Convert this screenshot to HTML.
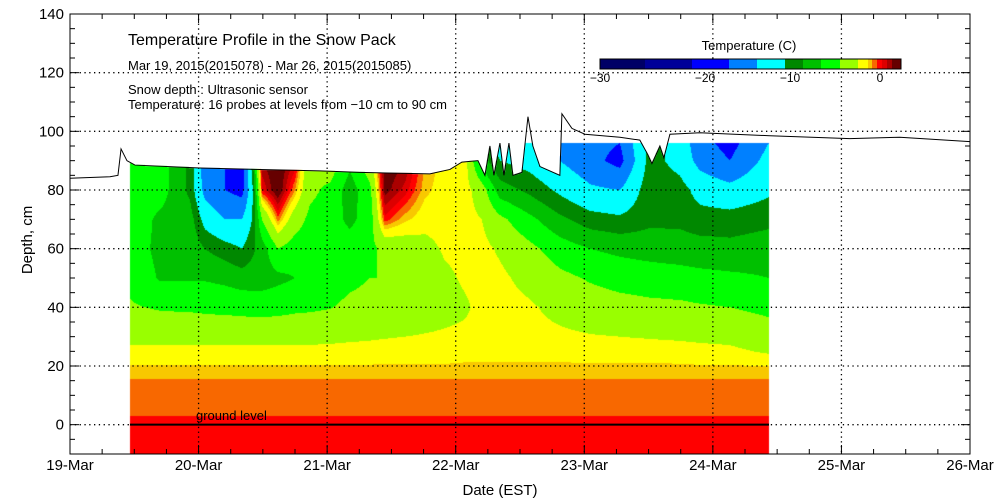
<!DOCTYPE html>
<html><head><meta charset="utf-8"><style>
html,body{margin:0;padding:0;background:#fff;}
#wrap{position:relative;width:1000px;height:500px;overflow:hidden;font-family:"Liberation Sans",sans-serif;}
canvas,svg{position:absolute;left:0;top:0;}
</style></head><body>
<div id="wrap">
<canvas id="cv" width="1000" height="500"></canvas>
<svg id="sv" width="1000" height="500"></svg>
</div>
<script>
// ---- data ----
const colTimes=[19.467,19.70,19.933,20.05,20.205,20.337,20.415,20.493,20.617,20.75,20.866,21.022,21.177,21.333,21.449,21.605,21.76,21.916,22.072,22.204,22.344,22.577,22.81,23.044,23.277,23.51,23.743,23.899,24.132,24.435];
const depths=[-10,0,5,10,15,20,25,30,40,50,60,70,80,90,96];
const lowerProfile=[0.2,0.2,-0.15,-0.35,-0.45];
// upper values per column for depths 20,25,30,40,50,60,70,80,90,96
const upperTemps=[
[-0.95,-1.6,-2.5,-3.8,-4.5,-5,-4.5,-4.5,-4,-3.5],
[-0.95,-1.6,-2.5,-4.2,-6.2,-6.5,-6.5,-5,-5,-4.5],
[-0.95,-1.6,-2.5,-4.3,-6.2,-6.5,-7,-8.5,-8.5,-8.5],
[-0.95,-1.6,-2.6,-4.4,-6.2,-8,-11,-14,-15,-15],
[-0.95,-1.6,-2.6,-4.5,-6.5,-9,-13,-16,-16,-16],
[-0.95,-1.6,-2.6,-4.6,-7,-10,-13,-17,-18,-18],
[-0.95,-1.6,-2.6,-4.7,-7,-8.5,-10,-11,-9,-8],
[-0.95,-1.6,-2.6,-4.7,-7,-7,-4,0.5,1.5,1.7],
[-0.95,-1.6,-2.6,-4.6,-6.5,-4,-0.2,2.2,2.2,2.2],
[-0.95,-1.6,-2.5,-4.4,-6,-5,-3,-0.5,1,1.5],
[-0.95,-1.6,-2.5,-4.3,-5.5,-5,-4.5,-3.5,-3.5,-3],
[-0.95,-1.6,-2.4,-4.1,-5.2,-5,-5,-4.5,-2.5,-2],
[-0.95,-1.5,-2.3,-3.5,-4.5,-5,-6.5,-7,-5.5,-4.5],
[-0.95,-1.45,-2.2,-3.3,-4,-4.5,-5,-4.5,-2.5,-2],
[-0.95,-1.4,-2.1,-3.2,-4,-3.5,0.3,1.8,2,2],
[-0.95,-1.35,-2,-3,-3.8,-3,-0.8,0.8,1.6,1.7],
[-0.95,-1.35,-1.9,-2.8,-3,-2.5,-1.5,-0.8,-0.5,-0.4],
[-0.95,-1.3,-1.8,-2.5,-2.3,-1.8,-1.5,-1.4,-1.3,-1.2],
[-0.9,-1.3,-1.7,-2.2,-1.8,-1.6,-1.5,-1.4,-1.3,-1.3],
[-0.9,-1.3,-1.6,-1.6,-1.6,-1.6,-2,-3,-7,-10],
[-0.9,-1.3,-1.5,-1.5,-1.7,-2.2,-3.5,-7,-10,-11],
[-0.9,-1.25,-1.5,-1.8,-2.5,-3.5,-5.5,-8.5,-11,-11],
[-0.9,-1.3,-1.7,-2.5,-3.5,-5,-7.5,-10.5,-13,-14],
[-0.9,-1.35,-1.9,-3,-4.2,-6,-9,-12.5,-15,-15],
[-0.9,-1.4,-2,-3.3,-4.7,-6.5,-9.5,-13,-17,-16],
[-0.9,-1.45,-2.1,-3.5,-5,-6.8,-8.5,-8.5,-9,-9],
[-0.9,-1.5,-2.2,-3.6,-5.2,-7,-8.5,-9,-11,-11],
[-0.95,-1.6,-2.3,-3.8,-5.4,-7.2,-9,-11,-14,-15],
[-0.95,-1.7,-2.4,-4,-5.6,-7.4,-9,-12,-16,-17],
[-1.0,-2.2,-3,-4.5,-6,-7,-8.5,-10.5,-12,-13]
];
const surfTimes=[19.0,19.311,19.373,19.397,19.443,19.505,20.011,20.477,20.944,21.255,21.799,21.955,22.048,22.173,22.227,22.266,22.297,22.344,22.375,22.414,22.445,22.515,22.562,22.6,22.655,22.81,22.826,22.904,23.005,23.277,23.432,23.495,23.526,23.588,23.619,23.666,23.899,24.443,25.065,25.454,26.0];
const surfDepths=[84,84.5,85,94,90,88.5,87.5,87,86.5,86,85.5,87,89.5,90,85,95,85,96,85,96,85,86,105,95,88,85,106,101,99,98,97,92,89,95,91,99,99.5,98.5,97.5,98,96.5];
const xTickLabels=["19-Mar","20-Mar","21-Mar","22-Mar","23-Mar","24-Mar","25-Mar","26-Mar"];
const yTickLabels=[-10,0,20,40,60,80,100,120,140];
const levelBounds=[-25,-20,-16,-13,-10,-8,-6,-4,-2,-1,-0.5,0,0.5,1,1.5];
const levelColors=["#000066","#000099","#0000ff","#0080ff","#00ffff","#008800","#00c000","#00ff00","#99ff00","#ffff00","#f8c800","#f86800","#ff0000","#dd0000","#aa0000","#660000"];
const cbTicks=[-30,-20,-10,0];
// ---- axes ----
const L=70,R=970,T=14,B=454;
const X=t=>L+(t-19)/7*(R-L);
const Y=d=>B-(d+10)/150*(B-T);
const Ti=x=>19+(x-L)/(R-L)*7;
const Di=y=>(B-y)/(B-T)*150-10;
function interp(xs,ys,v){if(v<=xs[0])return ys[0];for(let i=0;i<xs.length-1;i++){if(v<=xs[i+1]){const f=(v-xs[i])/(xs[i+1]-xs[i]);return ys[i]+f*(ys[i+1]-ys[i]);}}return ys[ys.length-1];}
function colProfile(i){return lowerProfile.concat(upperTemps[i]);}
function colorFor(v){let k=0;while(k<levelBounds.length&&v>=levelBounds[k])k++;return levelColors[k];}
function hex(c){return [parseInt(c.substr(1,2),16),parseInt(c.substr(3,2),16),parseInt(c.substr(5,2),16)];}
// ---- field ----
const cv=document.getElementById('cv'),ctx=cv.getContext('2d');
ctx.fillStyle='#fff';ctx.fillRect(0,0,1000,500);
const x0=Math.round(X(colTimes[0])),x1=Math.round(X(colTimes[colTimes.length-1]));
const img=ctx.getImageData(0,0,1000,500);
const profs=colTimes.map((t,i)=>colProfile(i));
for(let x=x0;x<x1;x++){
  const t=Ti(x+0.5);
  let i=0;while(i<colTimes.length-2&&t>colTimes[i+1])i++;
  let f=(t-colTimes[i])/(colTimes[i+1]-colTimes[i]);f=Math.max(0,Math.min(1,f));
  const prof=depths.map((d,k)=>profs[i][k]*(1-f)+profs[i+1][k]*f);
  const top=Math.min(96,interp(surfTimes,surfDepths,t));
  const yTop=Math.round(Y(top));
  for(let y=yTop;y<B;y++){
    const d=Di(y+0.5);
    const c=hex(colorFor(interp(depths,prof,d)));
    const p=(y*1000+x)*4;img.data[p]=c[0];img.data[p+1]=c[1];img.data[p+2]=c[2];img.data[p+3]=255;
  }
}
ctx.putImageData(img,0,0);
// ---- overlay ----
const NS='http://www.w3.org/2000/svg',sv=document.getElementById('sv');
function el(tag,attrs,parent){const e=document.createElementNS(NS,tag);for(const k in attrs)e.setAttribute(k,attrs[k]);(parent||sv).appendChild(e);return e;}
const grid=el('g',{stroke:'#000','stroke-width':1.3,'stroke-dasharray':'1.3,3.5'});


for(let k=1;k<7;k++){const x=X(19+k);el('line',{x1:x,x2:x,y1:T,y2:B},grid);}
yTickLabels.forEach(v=>{if(v>-10&&v<140){const y=Y(v);el('line',{x1:L,x2:R,y1:y,y2:y},grid);}});
// ground line
const gl=el('line',{x1:x0,x2:x1,y1:Y(0),y2:Y(0),stroke:'#000','stroke-width':2});


const gt=el('text',{x:196,y:420,'font-size':13,fill:'#000'});gt.textContent='ground level';


// snow surface
const sp=el('polyline',{points:surfTimes.map((t,i)=>X(t)+','+Y(surfDepths[i])).join(' '),fill:'none',stroke:'#000','stroke-width':1});


// frame
const fr=el('rect',{x:L,y:T,width:R-L,height:B-T,fill:'none',stroke:'#000','stroke-width':1});


// ticks
const tk=el('g',{stroke:'#000','stroke-width':1});


for(let k=0;k<=28;k++){const x=X(19+k/4);const len=k%4?5:9;el('line',{x1:x,x2:x,y1:B,y2:B-len},tk);el('line',{x1:x,x2:x,y1:T,y2:T+len},tk);}
for(let v=-10;v<=140;v+=5){const y=Y(v);const len=v%20===0?9:5;el('line',{x1:L,x2:L+len,y1:y,y2:y},tk);el('line',{x1:R,x2:R-len,y1:y,y2:y},tk);}
xTickLabels.forEach((s,k)=>{const t=el('text',{x:X(19+k),y:470,'font-size':15,'text-anchor':'middle',fill:'#000'});t.textContent=s;

});
yTickLabels.forEach(v=>{const t=el('text',{x:64,y:Y(v)+5,'font-size':15,'text-anchor':'end',fill:'#000'});t.textContent=v===-10?'':String(v);

});
const xt=el('text',{x:500,y:495,'font-size':15,'text-anchor':'middle'});xt.textContent='Date (EST)';


const yt=el('text',{x:32,y:240,'font-size':15,'text-anchor':'middle',transform:'rotate(-90 32 240)'});yt.textContent='Depth, cm';


// titles
const lines=[[128,45,16,'Temperature Profile in the Snow Pack'],[128,70,13,'Mar 19, 2015(2015078) - Mar 26, 2015(2015085)'],[128,94,13,'Snow depth : Ultrasonic sensor'],[128,109,13,'Temperature: 16 probes at levels from \u221210 cm to 90 cm']];
lines.forEach((a,k)=>{const t=el('text',{x:a[0],y:a[1],'font-size':a[2],fill:'#000'});t.textContent=a[3];

});
// colorbar
const cbX=[600,645,692,729,757,785,803,821,840,858,868,872,877,882,887,892,901];
const cb=el('g',{});


levelColors.forEach((c,k)=>{el('rect',{x:cbX[k],y:59,width:cbX[k+1]-cbX[k],height:10,fill:c},cb);});
el('rect',{x:600,y:59,width:301,height:10,fill:'none',stroke:'#000'},cb);
const cbPos=[600,705,790,880];
cbTicks.forEach((v,k)=>{const t=el('text',{x:cbPos[k],y:82,'font-size':12,'text-anchor':'middle'},cb);t.textContent=v<0?'\u2212'+(-v):String(v);

});
const ct=el('text',{x:749,y:50,'font-size':13,'text-anchor':'middle'},cb);ct.textContent='Temperature (C)';


</script>
</body></html>
